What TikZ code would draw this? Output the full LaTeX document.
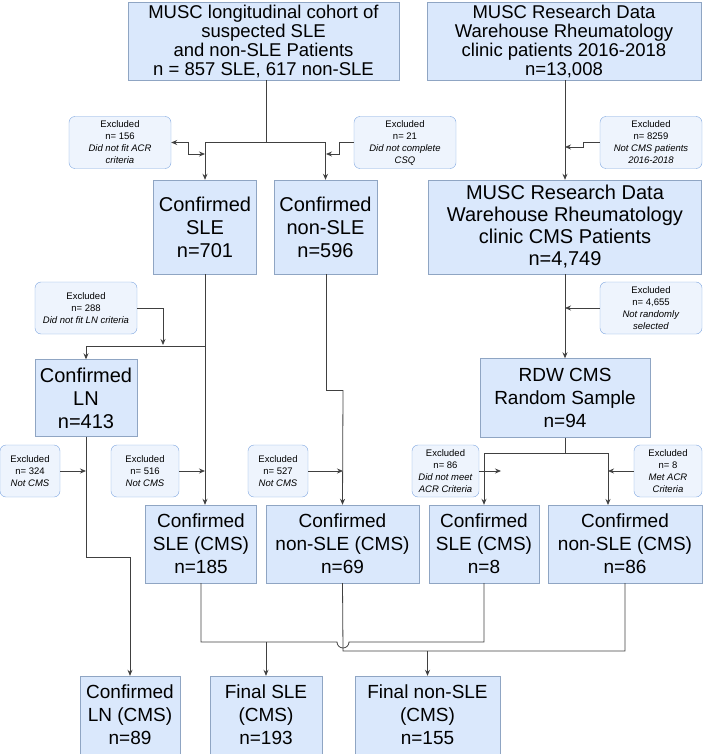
\documentclass[tikz,border=0pt]{standalone}
\usepackage{fontspec}
\setmainfont{Liberation Sans}
\usetikzlibrary{arrows.meta}
\definecolor{boxfill}{HTML}{DAE8FC}
\definecolor{boxline}{HTML}{8FA5C3}
\definecolor{exfill}{HTML}{EEF4FD}
\definecolor{exline}{HTML}{7EA6E0}
\begin{document}
\begin{tikzpicture}[x=1pt,y=-1pt,
    box/.style={draw=boxline,fill=boxfill,align=center,inner sep=0pt,font=\fontsize{18.5}{19}\selectfont},
    bigbox/.style={box,font=\fontsize{20}{23}\selectfont},
    midbox/.style={box,font=\fontsize{19}{23}\selectfont},
    excl/.style={draw=exline,fill=exfill,rounded corners=6pt,align=center,inner sep=0pt,
        minimum width=102pt,minimum height=52pt,font=\fontsize{9.5}{12}\selectfont},
    line/.style={draw=black!75,line width=0.8pt},
    arr/.style={line,-{Stealth[length=6pt,width=5pt]}},
    barr/.style={line,{Stealth[length=6pt,width=5pt]}-{Stealth[length=6pt,width=5pt]}}]
\useasboundingbox (0,0) rectangle (703,754);

% main boxes
\node[box,minimum width=271pt,minimum height=78pt] (cohort) at (263.5,41)
    {MUSC longitudinal cohort of\\suspected SLE\\and non-SLE Patients\\n = 857 SLE, 617 non-SLE};
\node[box,minimum width=274pt,minimum height=78pt] (rdw) at (564,41)
    {MUSC Research Data\\Warehouse Rheumatology\\clinic patients 2016-2018\\n=13,008};
\node[bigbox,minimum width=103pt,minimum height=94pt] (csle) at (205,227) {Confirmed\\SLE\\n=701};
\node[bigbox,minimum width=103pt,minimum height=94pt] (cnon) at (325.5,227) {Confirmed\\non-SLE\\n=596};
\node[bigbox,font=\fontsize{20}{22}\selectfont,minimum width=273pt,minimum height=94pt] (cms) at (565,227)
    {MUSC Research Data\\Warehouse Rheumatology\\clinic CMS Patients\\n=4,749};
\node[bigbox,minimum width=102pt,minimum height=77pt] (ln) at (86,398) {Confirmed\\LN\\n=413};
\node[midbox,minimum width=170pt,minimum height=79pt] (rand) at (565,398)
    {RDW CMS\\Random Sample\\n=94};
\node[midbox,minimum width=111pt,minimum height=78pt] (slecms) at (201,544) {Confirmed\\SLE (CMS)\\n=185};
\node[midbox,minimum width=153pt,minimum height=78pt] (noncms) at (342.5,544) {Confirmed\\non-SLE (CMS)\\n=69};
\node[midbox,minimum width=110pt,minimum height=78pt] (sleeight) at (484,544) {Confirmed\\SLE (CMS)\\n=8};
\node[midbox,minimum width=154pt,minimum height=78pt] (nonsix) at (625,544) {Confirmed\\non-SLE (CMS)\\n=86};
\node[midbox,minimum width=100pt,minimum height=78pt] (lncms) at (130,715) {Confirmed\\LN (CMS)\\n=89};
\node[midbox,minimum width=112pt,minimum height=78pt] (fsle) at (266,715) {Final SLE\\(CMS)\\n=193};
\node[midbox,minimum width=145pt,minimum height=78pt] (fnon) at (427.5,715) {Final non-SLE\\(CMS)\\n=155};

% excluded boxes
\node[excl] (exA) at (120,142.5) {Excluded\\n= 156\\\textit{Did not fit ACR}\\\textit{criteria}};
\node[excl] (exB) at (405,142.5) {Excluded\\n= 21\\\textit{Did not complete}\\\textit{CSQ}};
\node[excl] (exC) at (651,142.5) {Excluded\\n= 8259\\\textit{Not CMS patients}\\\textit{2016-2018}};
\node[excl] (exD) at (86,308) {Excluded\\n= 288\\\textit{Did not fit LN criteria}};
\node[excl] (exE) at (651,308) {Excluded\\n= 4,655\\\textit{Not randomly}\\\textit{selected}};
\node[excl,minimum width=60pt] (exF) at (30,471) {Excluded\\n= 324\\\textit{Not CMS}};
\node[excl,minimum width=68pt] (exG) at (145,471) {Excluded\\n= 516\\\textit{Not CMS}};
\node[excl,minimum width=60pt] (exH) at (278,471) {Excluded\\n= 527\\\textit{Not CMS}};
\node[excl,minimum width=67pt] (exI) at (445.5,471) {Excluded\\n= 86\\\textit{Did not meet}\\\textit{ACR Criteria}};
\node[excl,minimum width=68pt] (exJ) at (668,471) {Excluded\\n= 8\\\textit{Met ACR}\\\textit{Criteria}};

% junctions
\coordinate (jtop) at (266,142);
\coordinate (jln) at (205,346);
\coordinate (jnon) at (326,390);
\coordinate (jrand) at (565,453);
\coordinate (jlnb) at (86,557);
\coordinate (jsle) at (201,642);
\coordinate (jnonb) at (343,651);

% left cohort
\draw[line] (cohort.south -| jtop) -- (jtop);
\draw[arr] (jtop) -| (csle.north);
\draw[arr] (jtop) -| (cnon.north);
\draw[barr] (exA.east) -- (188,142.5) |- (205,154);
\draw[arr] (exB.west) -- (339,142.5) |- (326,154);
\draw[line] (csle.south) -- (jln);
\draw[arr] (jln) -- (slecms.north -| csle.south);
\draw[arr] (jln) -| (ln.north);
\draw[arr] (exD.east |- 0,308) -- (163,308) -- (163,345);
\draw[line] (cnon.south -| jnon) -- (jnon) -- (343,390);
\draw[arr] (343,390) -- (noncms.north);
\draw[arr] (exF.east) -- (86,471);
\draw[arr] (exG.east) -- (205,471);
\draw[arr] (exH.east) -- (343,471);
\draw[line] (ln.south) -- (jlnb) -- (130,557);
\draw[arr] (130,557) -- (lncms.north);

% right warehouse
\draw[arr] (rdw.south -| cms.north) -- (cms.north);
\draw[arr] (exC.west) -- (583,142.5) |- (565,147);
\draw[arr] (cms.south) -- (rand.north);
\draw[arr] (exE.west) -- (565,308);
\draw[line] (rand.south) -- (jrand);
\draw[arr] (jrand) -| (sleeight.north);
\draw[arr] (jrand) -| (608,505);
\draw[arr] (exI.east) -- (501,471);
\draw[arr] (exJ.west) -- (608,471);

% merging
\draw[line] (slecms.south) -- (jsle) -- (337,642) arc (180:0:6) -- (484,642) -- (sleeight.south);
\draw[arr] (fsle.north |- jsle) -- (fsle.north);
\draw[line] (noncms.south) -- (jnonb) -- (625,651) -- (nonsix.south);
\draw[arr] (fnon.north |- jnonb) -- (fnon.north);
\end{tikzpicture}
\end{document}
